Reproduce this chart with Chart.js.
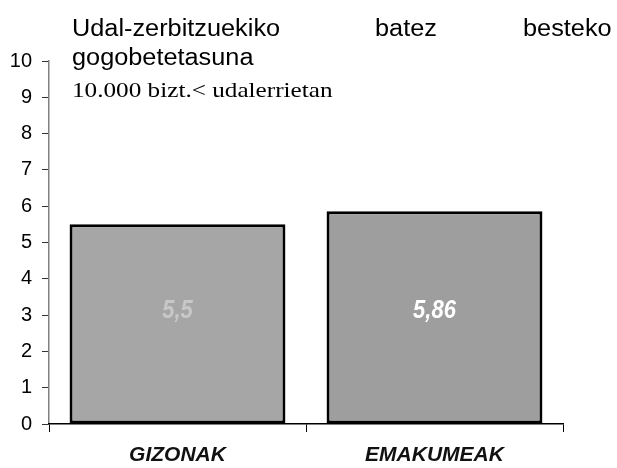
<!DOCTYPE html>
<html>
<head>
<meta charset="utf-8">
<script src="https://cdn.jsdelivr.net/npm/chart.js@4/dist/chart.umd.min.js"></script>
<style>
  html, body { margin: 0; padding: 0; background: #fff; }
  #wrap { width: 617px; height: 468px; position: relative; }
</style>
</head>
<body>
<div id="wrap"><canvas id="chart" width="617" height="468"></canvas></div>
<script>
const categories = ['GIZONAK', 'EMAKUMEAK'];
const values = [5.5, 5.86];
const valueLabels = ['5,5', '5,86'];
const yTicks = [0, 1, 2, 3, 4, 5, 6, 7, 8, 9, 10];

const barColors = ['#a6a6a6', '#9e9e9e'];
const labelColors = ['#c8c8c8', '#ffffff'];

function stretched(ctx, text, x, y, font, sx) {
  ctx.save();
  ctx.font = font;
  ctx.translate(x, y);
  ctx.scale(sx, 1);
  ctx.fillText(text, 0, 0);
  ctx.restore();
}

// title text sits over the plot, justified like the original
const titlePlugin = {
  id: 'titleText',
  afterDraw(chart) {
    const ctx = chart.ctx;
    ctx.save();
    ctx.fillStyle = '#000';
    ctx.textBaseline = 'alphabetic';
    ctx.textAlign = 'left';

    const sans = '23px "Liberation Sans", Arial, sans-serif';
    stretched(ctx, 'Udal-zerbitzuekiko', 72, 36, sans, 1.1);
    stretched(ctx, 'batez', 375, 36, sans, 1.1);
    stretched(ctx, 'besteko', 523, 36, sans, 1.1);
    stretched(ctx, 'gogobetetasuna', 72, 65, sans, 1.1);
    stretched(ctx, '10.000 bizt.< udalerrietan', 72, 97, '21px "Liberation Serif", "Times New Roman", serif', 1.2);

    // value labels inside the bars
    const meta = chart.getDatasetMeta(0);
    const yScale = chart.scales.y;
    ctx.textAlign = 'center';
    ctx.textBaseline = 'middle';
    meta.data.forEach((bar, i) => {
      ctx.fillStyle = labelColors[i];
      stretched(ctx, valueLabels[i], bar.x, yScale.getPixelForValue(3.1),
        'italic bold 25px "Liberation Sans", Arial, sans-serif', 0.88);
    });
    ctx.restore();
  }
};

new Chart(document.getElementById('chart'), {
  type: 'bar',
  data: {
    labels: categories,
    datasets: [{
      data: values,
      backgroundColor: barColors,
      borderColor: '#000',
      borderWidth: 3,
      borderSkipped: false,
      categoryPercentage: 1,
      barPercentage: 0.84
    }]
  },
  options: {
    responsive: false,
    animation: false,
    devicePixelRatio: 1,
    layout: { padding: { top: 61, right: 54, left: 0, bottom: 0 } },
    plugins: {
      legend: { display: false },
      tooltip: { enabled: false },
      title: { display: false }
    },
    scales: {
      y: {
        min: 0,
        max: 10,
        afterBuildTicks(scale) {
          scale.ticks = yTicks.map(v => ({ value: v }));
        },
        afterFit(scale) { scale.width = 49; },
        border: { display: true, color: '#808080', width: 1.5 },
        grid: { drawOnChartArea: false, tickLength: 7, color: '#333', lineWidth: 1 },
        ticks: {
          padding: 10,
          color: '#000',
          font: { family: '"Liberation Sans", Arial, sans-serif', size: 20 }
        }
      },
      x: {
        afterFit(scale) { scale.height = 44; },
        border: { display: true, color: '#000', width: 1.5 },
        grid: { drawOnChartArea: false, offset: true, tickLength: 8, color: '#000', lineWidth: 1 },
        ticks: {
          padding: 11,
          color: '#111',
          font: { family: '"Liberation Sans", Arial, sans-serif', size: 21, style: 'italic', weight: 'bold' }
        }
      }
    }
  },
  plugins: [titlePlugin]
});
</script>
</body>
</html>
